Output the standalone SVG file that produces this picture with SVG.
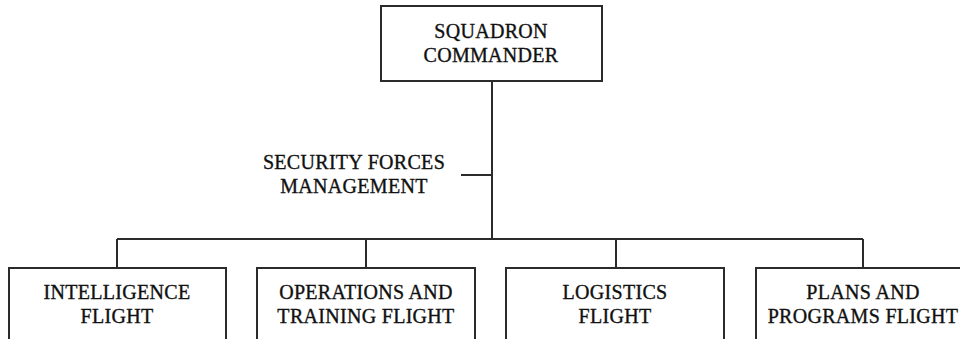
<svg xmlns="http://www.w3.org/2000/svg" width="960" height="339" viewBox="0 0 960 339">
<style>
.box{fill:#fff;stroke:#2b2b2b;stroke-width:2}
.ln{fill:none;stroke:#2b2b2b;stroke-width:2}
text{font-family:"Liberation Serif","Times New Roman",serif;font-size:20px;fill:#111;stroke:#111;stroke-width:0.35;text-anchor:middle;letter-spacing:0.3px}
</style>
<rect width="960" height="339" fill="#fff"/>
<g id="connectors">
<path class="ln" d="M492 81V239M461 175H492M117 239H863M117 239V268M366 239V268M616 239V268M863 239V268"/>
</g>
<g id="commander">
<rect class="box" x="381" y="6" width="221" height="75"/>
<text x="491" y="38">SQUADRON</text>
<text x="491" y="62">COMMANDER</text>
</g>
<g id="sfm">
<text x="354" y="169">SECURITY FORCES</text>
<text x="354" y="193">MANAGEMENT</text>
</g>
<g id="intel">
<rect class="box" x="9" y="268" width="217" height="90"/>
<text x="117" y="299">INTELLIGENCE</text>
<text x="117" y="323">FLIGHT</text>
</g>
<g id="ops">
<rect class="box" x="257" y="268" width="218" height="90"/>
<text x="366" y="299">OPERATIONS AND</text>
<text x="366" y="323">TRAINING FLIGHT</text>
</g>
<g id="log">
<rect class="box" x="506" y="268" width="218" height="90"/>
<text x="615" y="299">LOGISTICS</text>
<text x="615" y="323">FLIGHT</text>
</g>
<g id="plans">
<rect class="box" x="756" y="268" width="217" height="90"/>
<text x="863" y="299">PLANS AND</text>
<text x="863" y="323">PROGRAMS FLIGHT</text>
</g>
</svg>
